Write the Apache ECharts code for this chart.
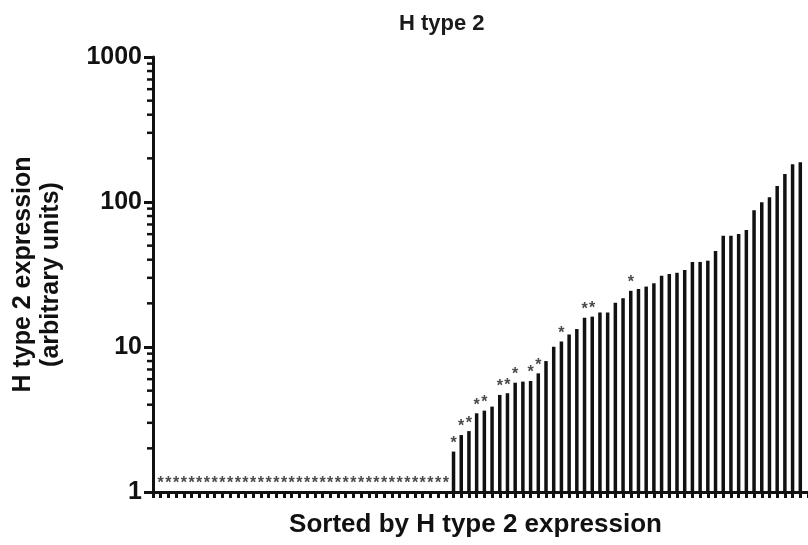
<!DOCTYPE html>
<html>
<head>
<meta charset="utf-8">
<script src="https://cdn.jsdelivr.net/npm/echarts@6/dist/echarts.min.js"></script>
<style>
  html, body { margin: 0; padding: 0; background: #fff; }
  #chart { width: 808px; height: 545px; }
</style>
</head>
<body>
<div id="chart"></div>
<script>
// H type 2 expression per sample, sorted ascending (arbitrary units).
// Samples below detection are recorded at the axis floor (1).
const expression = [
  1, 1, 1, 1, 1, 1, 1, 1, 1, 1,
  1, 1, 1, 1, 1, 1, 1, 1, 1, 1,
  1, 1, 1, 1, 1, 1, 1, 1, 1, 1,
  1, 1, 1, 1, 1, 1, 1, 1,
  1.90, 2.47, 2.63, 3.49, 3.64, 3.88, 4.67, 4.80, 5.67, 5.77,
  5.83, 6.58, 8.0, 10.05, 10.9, 12.2, 13.3, 15.9, 16.2, 17.3,
  17.3, 20.2, 21.7, 24.4, 25.1, 26.1, 27.5, 31.0, 31.9, 32.5,
  34.0, 38.6, 38.6, 39.4, 45.9, 58.6, 58.6, 60.2, 64.1, 87.7,
  99.5, 108, 129, 156, 182, 188
];

// 1 = sample marked with an asterisk
const marked = [
  1, 1, 1, 1, 1, 1, 1, 1, 1, 1,
  1, 1, 1, 1, 1, 1, 1, 1, 1, 1,
  1, 1, 1, 1, 1, 1, 1, 1, 1, 1,
  1, 1, 1, 1, 1, 1, 1, 1,
  1, 1, 1, 1, 1, 0, 1, 1, 1, 0,
  1, 1, 0, 0, 1, 0, 0, 1, 1, 0,
  0, 0, 0, 1, 0, 0, 0, 0, 0, 0,
  0, 0, 0, 0, 0, 0, 0, 0, 0, 0,
  0, 0, 0, 0, 0, 0
];

// Log-axis ticks
const majorTicks = [1, 10, 100, 1000];
const minorTicks = [
  2, 3, 4, 5, 6, 7, 8, 9,
  20, 30, 40, 50, 60, 70, 80, 90,
  200, 300, 400, 500, 600, 700, 800, 900
];

const FONT = '"Liberation Sans", Arial, Helvetica, sans-serif';
const INK = '#111';

const barData = expression.map((v, i) => [i, v]);

const chart = echarts.init(document.getElementById('chart'), null, { renderer: 'canvas' });

chart.setOption({
  animation: false,
  backgroundColor: '#fff',
  title: {
    text: 'H type 2',
    left: 394,
    top: 8,
    textStyle: { fontFamily: FONT, fontSize: 22, fontWeight: 'bold', color: '#1a1a1a' }
  },
  grid: { left: 153, right: -5, top: 57, bottom: 53, containLabel: false },
  xAxis: {
    type: 'value',
    min: -1,
    max: 84,
    interval: 1,
    name: 'Sorted by H type 2 expression',
    nameLocation: 'middle',
    nameGap: 20,
    nameTextStyle: {
      fontFamily: FONT, fontSize: 26, fontWeight: 'bold', color: INK,
      verticalAlign: 'top',
      padding: [0, 10, 0, 0]
    },
    axisLine: { show: true, onZero: false, lineStyle: { color: INK, width: 3 } },
    axisTick: { show: true, inside: false, length: 6, lineStyle: { color: INK, width: 3 } },
    axisLabel: { show: false },
    splitLine: { show: false }
  },
  yAxis: {
    type: 'log',
    logBase: 10,
    min: 1,
    max: 1000,
    name: 'H type 2 expression\n(arbitrary units)',
    nameLocation: 'middle',
    nameGap: 88,
    nameTextStyle: {
      fontFamily: FONT, fontSize: 25, fontWeight: 'bold', color: INK, lineHeight: 28
    },
    axisLine: { show: true, onZero: false, lineStyle: { color: INK, width: 3 } },
    axisTick: { show: true, inside: false, length: 9, lineStyle: { color: INK, width: 3 } },
    axisLabel: {
      fontFamily: FONT, fontSize: 25, fontWeight: 'bold', color: INK, margin: 11,
      formatter: v => (majorTicks.indexOf(Math.round(v)) >= 0 ? String(Math.round(v)) : '')
    },
    splitLine: { show: false },
    minorTick: { show: false }
  },
  series: [
    {
      type: 'bar',
      data: barData,
      barWidth: 3.5,
      itemStyle: { color: INK },
      label: {
        show: true,
        position: 'top',
        distance: 0,
        fontFamily: FONT,
        fontSize: 16,
        fontWeight: 'bold',
        color: '#4a4a4a',
        formatter: p => (marked[p.dataIndex] ? '*' : '')
      }
    },
    {
      // minor ticks of the log axis, placed through the y scale
      type: 'custom',
      coordinateSystem: 'cartesian2d',
      silent: true,
      data: minorTicks.map(v => [0, v]),
      renderItem: (params, api) => {
        const pt = api.coord([0, api.value(1)]);
        const x0 = params.coordSys.x;
        return {
          type: 'line',
          shape: { x1: x0 - 6, y1: pt[1], x2: x0, y2: pt[1] },
          style: { stroke: INK, lineWidth: 2.5 }
        };
      },
      z: 3
    }
  ]
});
</script>
</body>
</html>
